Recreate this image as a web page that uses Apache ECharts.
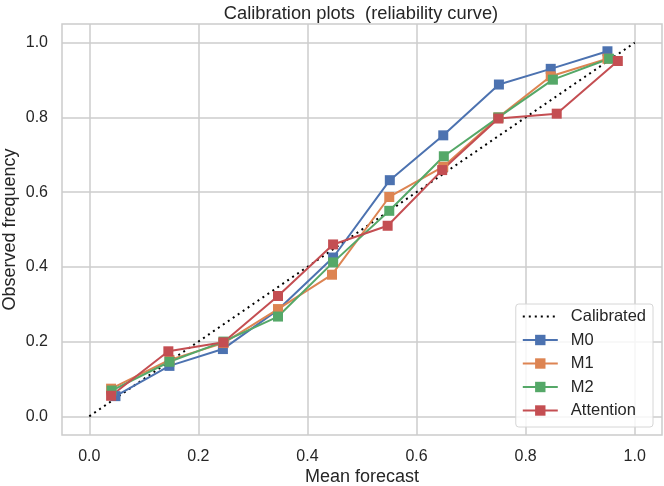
<!DOCTYPE html>
<html>
<head>
<meta charset="utf-8">
<script src="https://cdn.jsdelivr.net/npm/echarts@6/dist/echarts.min.js"></script>
<style>
  html, body { margin: 0; padding: 0; background: #fff; }
  #main { width: 664px; height: 486px; }
</style>
</head>
<body>
<div id="main"></div>
<script>
var tickValues = [0.0, 0.2, 0.4, 0.6, 0.8, 1.0];
var calibratedX = [0, 1];
var calibratedY = [0, 1];

var m0X = [0.048, 0.147, 0.245, 0.346, 0.447, 0.551, 0.649, 0.751, 0.846, 0.950];
var m0Y = [0.054, 0.135, 0.180, 0.285, 0.425, 0.632, 0.752, 0.888, 0.930, 0.977];
var m1X = [0.040, 0.147, 0.246, 0.346, 0.445, 0.550, 0.649, 0.750, 0.846, 0.950];
var m1Y = [0.074, 0.151, 0.196, 0.287, 0.379, 0.587, 0.668, 0.800, 0.910, 0.957];
var m2X = [0.041, 0.147, 0.246, 0.346, 0.447, 0.550, 0.650, 0.750, 0.850, 0.953];
var m2Y = [0.069, 0.146, 0.200, 0.267, 0.412, 0.550, 0.696, 0.800, 0.901, 0.957];
var attX = [0.040, 0.145, 0.246, 0.346, 0.447, 0.547, 0.647, 0.750, 0.857, 0.969];
var attY = [0.055, 0.174, 0.198, 0.322, 0.460, 0.510, 0.659, 0.797, 0.810, 0.951];

function pairs(xs, ys) {
    return xs.map(function (x, i) { return [x, ys[i]]; });
}

var myChart = echarts.init(document.getElementById('main'));
var font = 'Liberation Sans, Arial, sans-serif';
var textColor = '#262626';
var gridColor = '#cccccc';

function lineSeries(name, color, xs, ys) {
    return {
        name: name,
        type: 'line',
        data: pairs(xs, ys),
        symbol: 'rect',
        symbolSize: 10,
        showSymbol: true,
        color: color,
        lineStyle: { width: 2, color: color },
        itemStyle: { color: color },
        emphasis: { disabled: true },
        animation: false
    };
}

function valueAxis(name, nameGap, labelMargin) {
    return {
        type: 'value',
        min: -0.05,
        max: 1.05,
        name: name,
        nameGap: nameGap,
        nameLocation: 'middle',
        nameMoveOverlap: false,
        nameTextStyle: { color: textColor, fontFamily: font, fontSize: 18 },
        axisLine: { show: false },
        axisTick: { show: false, customValues: tickValues },
        splitLine: { show: true, lineStyle: { color: gridColor, width: 1.5 } },
        axisLabel: {
            customValues: tickValues,
            color: textColor,
            fontFamily: font,
            fontSize: 16,
            margin: labelMargin,
            formatter: function (v) { return v.toFixed(1); }
        }
    };
}

myChart.setOption({
    backgroundColor: '#ffffff',
    title: {
        text: 'Calibration plots  (reliability curve)',
        left: 356,
        top: 0,
        textAlign: 'center',
        textStyle: { color: textColor, fontFamily: font, fontSize: 18.3, fontWeight: 'normal' }
    },
    grid: {
        left: 62,
        right: 2,
        top: 24,
        bottom: 51,
        containLabel: false,
        outerBoundsMode: 'none',
        show: true,
        borderColor: gridColor,
        borderWidth: 1.5,
        backgroundColor: '#ffffff'
    },
    xAxis: valueAxis('Mean forecast', 33, 14),
    yAxis: valueAxis('Observed frequency', 43, 14),
    legend: {
        orient: 'vertical',
        right: 11,
        bottom: 59,
        padding: [4, 7, 8, 6],
        itemWidth: 35,
        itemHeight: 13,
        itemGap: 6.5,
        backgroundColor: 'rgba(255,255,255,0.8)',
        borderColor: '#d6d6d6',
        borderWidth: 1,
        borderRadius: 3,
        textStyle: { color: textColor, fontFamily: font, fontSize: 16.5, lineHeight: 16, padding: [0, 0, 0, 8] },
        data: [
            { name: 'Calibrated', itemStyle: { color: 'rgba(0,0,0,0)', opacity: 0, borderWidth: 0 } },
            'M0', 'M1', 'M2', 'Attention'
        ]
    },
    series: [
        {
            name: 'Calibrated',
            type: 'line',
            data: pairs(calibratedX, calibratedY),
            symbol: 'none',
            color: '#000000',
            lineStyle: { color: '#000000', width: 2, type: [2, 4] },
            emphasis: { disabled: true },
            animation: false
        },
        lineSeries('M0', '#4C72B0', m0X, m0Y),
        lineSeries('M1', '#DD8452', m1X, m1Y),
        lineSeries('M2', '#55A868', m2X, m2Y),
        lineSeries('Attention', '#C44E52', attX, attY)
    ]
});
</script>
</body>
</html>
